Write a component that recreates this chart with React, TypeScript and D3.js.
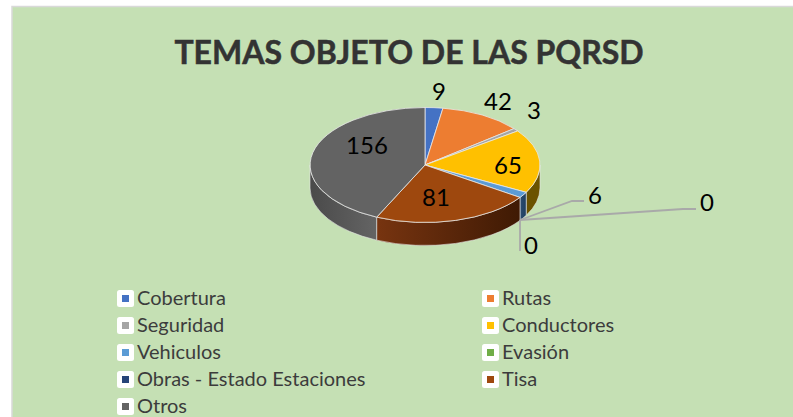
import React from "react";
import * as d3 from "d3";

const title = "TEMAS OBJETO DE LAS PQRSD";
const categories = ["Cobertura", "Rutas", "Seguridad", "Conductores", "Vehiculos", "Evasión", "Obras - Estado Estaciones", "Tisa", "Otros"];
const values = [9, 42, 3, 65, 6, 0, 0, 81, 156];
const colors = ["#4472c4", "#ed7d31", "#a5a5a5", "#ffc000", "#5b9bd5", "#70ad47", "#264478", "#9e480e", "#636363"];
const wallDark = ["#2a4478", "#7a4018", "#606060", "#6b5200", "#1f3f60", "#3a5a24", "#14264a", "#3f1a04", "#646464"];
const wallLight = ["#2a4478", "#7a4018", "#606060", "#6b5200", "#2c4c70", "#3a5a24", "#14264a", "#773410", "#4a4a4a"];

const labelPos: [number, number][] = [[439, 90], [498, 100], [534, 109], [508, 164], [595, 194], [707, 201], [531, 244], [436, 196], [367, 144]];

const W = 793, H = 417;
const cx = 425, cy = 165, rx = 115, ry = 57.5, depth = 23;
const pt = (a: number, dy = 0): [number, number] => [cx + rx * Math.sin(a), cy - ry * Math.cos(a) + dy];

const legendCols = [117, 482];
const legendTop = 298.5, legendStep = 27;

export default function App() {
  const pie = d3.pie<number>().sort(null).startAngle(0).endAngle(2 * Math.PI);
  const arcs = pie(values);
  const arcGen = d3.arc<d3.PieArcDatum<number>>().innerRadius(0).outerRadius(1);
  const walls = arcs
    .map((d, i) => {
      const a0 = Math.max(d.startAngle, Math.PI / 2);
      const a1 = Math.min(d.endAngle, (3 * Math.PI) / 2);
      if (a1 <= a0 || d.value === 0) return null;
      const [x0, y0] = pt(a0), [x1, y1] = pt(a1);
      const path = `M${x0},${y0}A${rx},${ry} 0 0 1 ${x1},${y1}L${x1},${y1 + depth}A${rx},${ry} 0 0 0 ${x0},${y0 + depth}Z`;
      return { i, path, x0: Math.min(x0, x1), x1: Math.max(x0, x1) };
    })
    .filter(Boolean) as { i: number; path: string; x0: number; x1: number }[];

  return (
    <svg width={W} height={H} style={{ position: "absolute", left: 0, top: 0, display: "block" }} fontFamily="Lato, Carlito, sans-serif">
      <rect x={0} y={0} width={W} height={H} fill="#ffffff" />
      <rect x={12} y={6.5} width={W + 10} height={H} fill="#c5e0b4" stroke="#d9d9d9" strokeWidth={1.5} />
      <text x={409} y={64} textAnchor="middle" fontSize={32} fontWeight={700} fill="#333333" stroke="#333333" strokeWidth={0.5}>{title}</text>
      <defs>
        {walls.map((w) => (
          <linearGradient key={w.i} id={`wall${w.i}`} gradientUnits="userSpaceOnUse" x1={w.x0} x2={w.x1} y1={0} y2={0}>
            <stop offset="0" stopColor={wallLight[w.i]} />
            <stop offset="1" stopColor={wallDark[w.i]} />
          </linearGradient>
        ))}
      </defs>
      {walls.map((w) => (
        <path key={w.i} d={w.path} fill={`url(#wall${w.i})`} stroke="#e8e8e8" strokeWidth={0.6} />
      ))}
      <g transform={`translate(${cx},${cy}) scale(${rx},${ry})`}>
        {arcs.map((d, i) =>
          d.value > 0 ? (
            <path key={i} d={arcGen(d) as string} fill={colors[i]} stroke="#e8e8e8" strokeWidth={0.8} vectorEffect="non-scaling-stroke" />
          ) : null
        )}
      </g>
      <g fill="none" stroke="#a9a9a9" strokeWidth={1.8}>
        <polyline points="520,220 572,201 584,201" />
        <polyline points="520,220 683,209 696,209" />
        <polyline points="520,220 520,251" />
      </g>
      {values.map((v, i) => (
        <text key={i} x={labelPos[i][0]} y={labelPos[i][1]} textAnchor="middle" dominantBaseline="central" fontSize={24} fill="#000000">{v}</text>
      ))}
      {categories.map((c, i) => {
        const x = legendCols[i % 2];
        const y = legendTop + legendStep * Math.floor(i / 2);
        return (
          <g key={c}>
            <rect x={x} y={y - 8.5} width={17} height={17} rx={2.5} fill="#ffffff" />
            <rect x={x + 5} y={y - 3.5} width={7} height={7} fill={colors[i]} />
            <text x={x + 20} y={y - 1.5} dominantBaseline="central" fontSize={20} fill="#3c3c3c">{c}</text>
          </g>
        );
      })}
    </svg>
  );
}
